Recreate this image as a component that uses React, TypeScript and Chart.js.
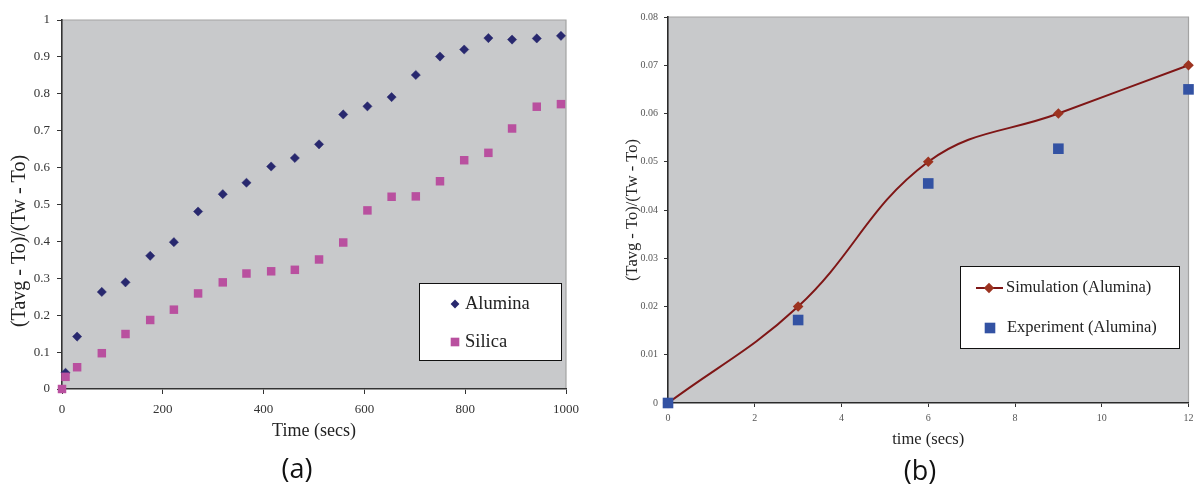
import React, { useEffect, useRef } from 'react';
import { Chart, registerables } from 'chart.js';

Chart.register(...registerables);

// ---------- Panel (a): heating curves ----------
const aluminaTime = [7, 30, 79, 126, 175, 222, 270, 319, 366, 415, 462, 510, 558, 606, 654, 702, 750, 798, 846, 893, 942, 990];
const aluminaRatio = [0.044, 0.142, 0.263, 0.289, 0.361, 0.398, 0.481, 0.528, 0.559, 0.603, 0.626, 0.663, 0.744, 0.766, 0.791, 0.851, 0.901, 0.92, 0.951, 0.947, 0.95, 0.957];
const silicaTime = [0, 7, 30, 79, 126, 175, 222, 270, 319, 366, 415, 462, 510, 558, 606, 654, 702, 750, 798, 846, 893, 942, 990];
const silicaRatio = [0, 0.033, 0.059, 0.097, 0.149, 0.187, 0.215, 0.259, 0.289, 0.313, 0.319, 0.323, 0.351, 0.397, 0.484, 0.521, 0.522, 0.563, 0.62, 0.64, 0.706, 0.765, 0.772];
const panelAXTicks = ['0', '200', '400', '600', '800', '1000'];
const panelAYTicks = ['0', '0.1', '0.2', '0.3', '0.4', '0.5', '0.6', '0.7', '0.8', '0.9', '1'];

// ---------- Panel (b): simulation vs experiment ----------
const simTime = [0, 3, 6, 9, 12];
const simRatio = [0, 0.02, 0.05, 0.06, 0.07];
const expTime = [0, 3, 6, 9, 12];
const expRatio = [0, 0.0172, 0.0455, 0.0527, 0.065];
const panelBXTicks = ['0', '2', '4', '6', '8', '10', '12'];
const panelBYTicks = ['0', '0.01', '0.02', '0.03', '0.04', '0.05', '0.06', '0.07', '0.08'];

const yTitle = '(Tavg - To)/(Tw - To)';
const SERIF = "'Liberation Serif', 'Times New Roman', serif";

const toPoints = (xs: number[], ys: number[]) => xs.map((x, i) => ({ x, y: ys[i] }));

const plotFrame = {
  id: 'plotFrame',
  beforeDraw(chart: any, _args: any, opts: any) {
    const { ctx, chartArea } = chart;
    const { left, top, right, bottom } = chartArea;
    ctx.save();
    ctx.fillStyle = opts.bg;
    ctx.fillRect(left, top, right - left, bottom - top);
    ctx.strokeStyle = opts.edge;
    ctx.lineWidth = 1.2;
    ctx.beginPath();
    ctx.moveTo(left, top);
    ctx.lineTo(right, top);
    ctx.lineTo(right, bottom);
    ctx.stroke();
    ctx.restore();
  },
};

const insetLegend = {
  id: 'insetLegend',
  afterDraw(chart: any, _args: any, opts: any) {
    if (!opts || !opts.box) return;
    const { ctx } = chart;
    const [bx, by, bw, bh] = opts.box;
    ctx.save();
    ctx.fillStyle = '#ffffff';
    ctx.fillRect(bx, by, bw, bh);
    ctx.strokeStyle = '#111';
    ctx.lineWidth = 1;
    ctx.strokeRect(bx + 0.5, by + 0.5, bw, bh);
    ctx.font = opts.font;
    ctx.textBaseline = 'middle';
    ctx.textAlign = 'left';
    opts.items.forEach((it: any, i: number) => {
      const ds = chart.data.datasets[i];
      if (it.line) {
        ctx.strokeStyle = ds.borderColor;
        ctx.lineWidth = ds.borderWidth;
        ctx.beginPath();
        ctx.moveTo(it.line[0], it.y);
        ctx.lineTo(it.line[1], it.y);
        ctx.stroke();
      }
      ctx.fillStyle = ds.pointBackgroundColor;
      const r = it.r;
      if (ds.pointStyle === 'rectRot') {
        ctx.beginPath();
        ctx.moveTo(it.x, it.y - r);
        ctx.lineTo(it.x + r, it.y);
        ctx.lineTo(it.x, it.y + r);
        ctx.lineTo(it.x - r, it.y);
        ctx.closePath();
        ctx.fill();
      } else {
        const s = r * 2 * Math.SQRT1_2;
        ctx.fillRect(it.x - s / 2, it.y - s / 2, s, s);
      }
      ctx.fillStyle = opts.color;
      ctx.fillText(ds.label, it.textX, it.y);
    });
    ctx.restore();
  },
};

const sideTitle = {
  id: 'sideTitle',
  afterDraw(chart: any, _args: any, opts: any) {
    if (!opts || !opts.text) return;
    const { ctx } = chart;
    ctx.save();
    ctx.translate(opts.x, opts.y);
    ctx.rotate(-Math.PI / 2);
    ctx.font = opts.font;
    ctx.fillStyle = opts.color;
    ctx.textAlign = 'center';
    ctx.textBaseline = 'middle';
    ctx.fillText(opts.text, 0, 0);
    ctx.restore();
  },
};

function buildPanelA(): any {
  return {
    type: 'scatter',
    data: {
      datasets: [
        {
          label: 'Alumina',
          data: toPoints(aluminaTime, aluminaRatio),
          pointStyle: 'rectRot',
          pointRadius: 4.6,
          pointBackgroundColor: '#28286e',
          pointBorderColor: '#28286e',
          pointBorderWidth: 0.5,
          clip: false,
          order: 1,
        },
        {
          label: 'Silica',
          data: toPoints(silicaTime, silicaRatio),
          pointStyle: 'rect',
          pointRadius: 6,
          pointBackgroundColor: '#b9509f',
          pointBorderColor: '#b9509f',
          pointBorderWidth: 0,
          clip: false,
          order: 0,
        },
      ],
    },
    options: {
      responsive: false,
      animation: false,
      events: [],
      layout: { padding: { left: 0, top: 20, right: 24, bottom: 0 } },
      scales: {
        x: {
          type: 'linear',
          min: 0,
          max: 1000,
          ticks: {
            stepSize: 200,
            padding: 8,
            color: '#333',
            font: { family: SERIF, size: 13 },
            callback: (_v: any, i: number) => panelAXTicks[i],
          },
          grid: { drawOnChartArea: false, drawTicks: true, tickLength: 5, tickColor: '#333', tickWidth: 1 },
          border: { display: true, color: '#333', width: 1.6 },
          title: {
            display: true,
            text: 'Time (secs)',
            color: '#222',
            font: { family: SERIF, size: 18 },
            padding: { top: 0, bottom: 44 },
          },
          afterFit: (s: any) => {
            s.height = 97;
            s.paddingLeft = 0;
            s.paddingRight = 0;
          },
        },
        y: {
          type: 'linear',
          min: 0,
          max: 1,
          ticks: {
            stepSize: 0.1,
            padding: 7,
            color: '#333',
            font: { family: SERIF, size: 13 },
            callback: (_v: any, i: number) => panelAYTicks[i],
          },
          grid: { drawOnChartArea: false, drawTicks: true, tickLength: 5, tickColor: '#333', tickWidth: 1 },
          border: { display: true, color: '#333', width: 1.6 },
          afterFit: (s: any) => {
            s.width = 62;
            s.paddingTop = 0;
            s.paddingBottom = 0;
          },
        },
      },
      plugins: {
        legend: { display: false },
        tooltip: { enabled: false },
        plotFrame: { bg: '#c8c9cb', edge: '#a3a3a3' },
        insetLegend: {
          box: [419, 283, 142, 77],
          font: `18.5px ${SERIF}`,
          color: '#222',
          items: [
            { x: 455, y: 304, r: 4.4, textX: 465 },
            { x: 455, y: 342, r: 6.1, textX: 465 },
          ],
        },
        sideTitle: { text: yTitle, x: 20, y: 241, font: `20px ${SERIF}`, color: '#222' },
      },
    },
    plugins: [plotFrame, insetLegend, sideTitle],
  };
}

function buildPanelB(): any {
  return {
    type: 'scatter',
    data: {
      datasets: [
        {
          label: 'Simulation (Alumina)',
          data: toPoints(simTime, simRatio),
          showLine: true,
          tension: 0.4,
          borderColor: '#7f1616',
          borderWidth: 2,
          pointStyle: 'rectRot',
          pointRadius: 5.3,
          pointBackgroundColor: '#9c3320',
          pointBorderColor: '#9c3320',
          pointBorderWidth: 0,
          clip: false,
          order: 1,
        },
        {
          label: 'Experiment (Alumina)',
          data: toPoints(expTime, expRatio),
          pointStyle: 'rect',
          pointRadius: 7.5,
          pointBackgroundColor: '#3352a3',
          pointBorderColor: '#3352a3',
          pointBorderWidth: 0,
          clip: false,
          order: 0,
        },
      ],
    },
    options: {
      responsive: false,
      animation: false,
      events: [],
      layout: { padding: { left: 0, top: 17, right: 2.5, bottom: 0 } },
      scales: {
        x: {
          type: 'linear',
          min: 0,
          max: 12,
          ticks: {
            stepSize: 2,
            padding: 5,
            color: '#555',
            font: { family: SERIF, size: 10 },
            callback: (_v: any, i: number) => panelBXTicks[i],
          },
          grid: { drawOnChartArea: false, drawTicks: true, tickLength: 4, tickColor: '#333', tickWidth: 1 },
          border: { display: true, color: '#2a2a2a', width: 1.6 },
          title: {
            display: true,
            text: 'time (secs)',
            color: '#222',
            font: { family: SERIF, size: 16.5 },
            padding: { top: 0, bottom: 36 },
          },
          afterFit: (s: any) => {
            s.height = 83;
            s.paddingLeft = 0;
            s.paddingRight = 0;
          },
        },
        y: {
          type: 'linear',
          min: 0,
          max: 0.08,
          ticks: {
            stepSize: 0.01,
            padding: 6,
            color: '#555',
            font: { family: SERIF, size: 10 },
            callback: (_v: any, i: number) => panelBYTicks[i],
          },
          grid: { drawOnChartArea: false, drawTicks: true, tickLength: 4, tickColor: '#333', tickWidth: 1 },
          border: { display: true, color: '#2a2a2a', width: 1.6 },
          title: {
            display: true,
            text: yTitle,
            color: '#222',
            font: { family: SERIF, size: 16.5 },
            padding: { top: 33, bottom: 0 },
          },
          afterFit: (s: any) => {
            s.width = 78;
            s.paddingTop = 0;
            s.paddingBottom = 0;
          },
        },
      },
      plugins: {
        legend: { display: false },
        tooltip: { enabled: false },
        plotFrame: { bg: '#c8c9cb', edge: '#a3a3a3' },
        insetLegend: {
          box: [370, 266, 219, 82],
          font: `16.5px ${SERIF}`,
          color: '#222',
          items: [
            { x: 399, y: 288, r: 5.2, textX: 416, line: [386, 413] },
            { x: 400, y: 328, r: 7.5, textX: 417 },
          ],
        },
      },
    },
    plugins: [plotFrame, insetLegend],
  };
}

function ChartCanvas({ build, left, width, height }: { build: () => any; left: number; width: number; height: number }) {
  const ref = useRef<HTMLCanvasElement | null>(null);
  useEffect(() => {
    if (!ref.current) return;
    const chart = new Chart(ref.current, build());
    return () => chart.destroy();
  }, [build]);
  return (
    <canvas
      ref={ref}
      width={width}
      height={height}
      style={{ position: 'absolute', left, top: 0, width, height, display: 'block' }}
    />
  );
}

const panelLabelStyle: React.CSSProperties = {
  position: 'absolute',
  width: 100,
  textAlign: 'center',
  fontFamily: "'Open Sans', 'Noto Sans', sans-serif",
  fontSize: 27,
  lineHeight: '30px',
  color: '#111',
};

export default function App() {
  return (
    <div style={{ position: 'absolute', left: 0, top: 0, width: 1196, height: 486, background: '#fff', overflow: 'hidden' }}>
      <ChartCanvas build={buildPanelA} left={0} width={590} height={486} />
      <ChartCanvas build={buildPanelB} left={590} width={606} height={486} />
      <div style={{ ...panelLabelStyle, left: 247, top: 453 }}>(a)</div>
      <div style={{ ...panelLabelStyle, left: 870, top: 455 }}>(b)</div>
    </div>
  );
}
